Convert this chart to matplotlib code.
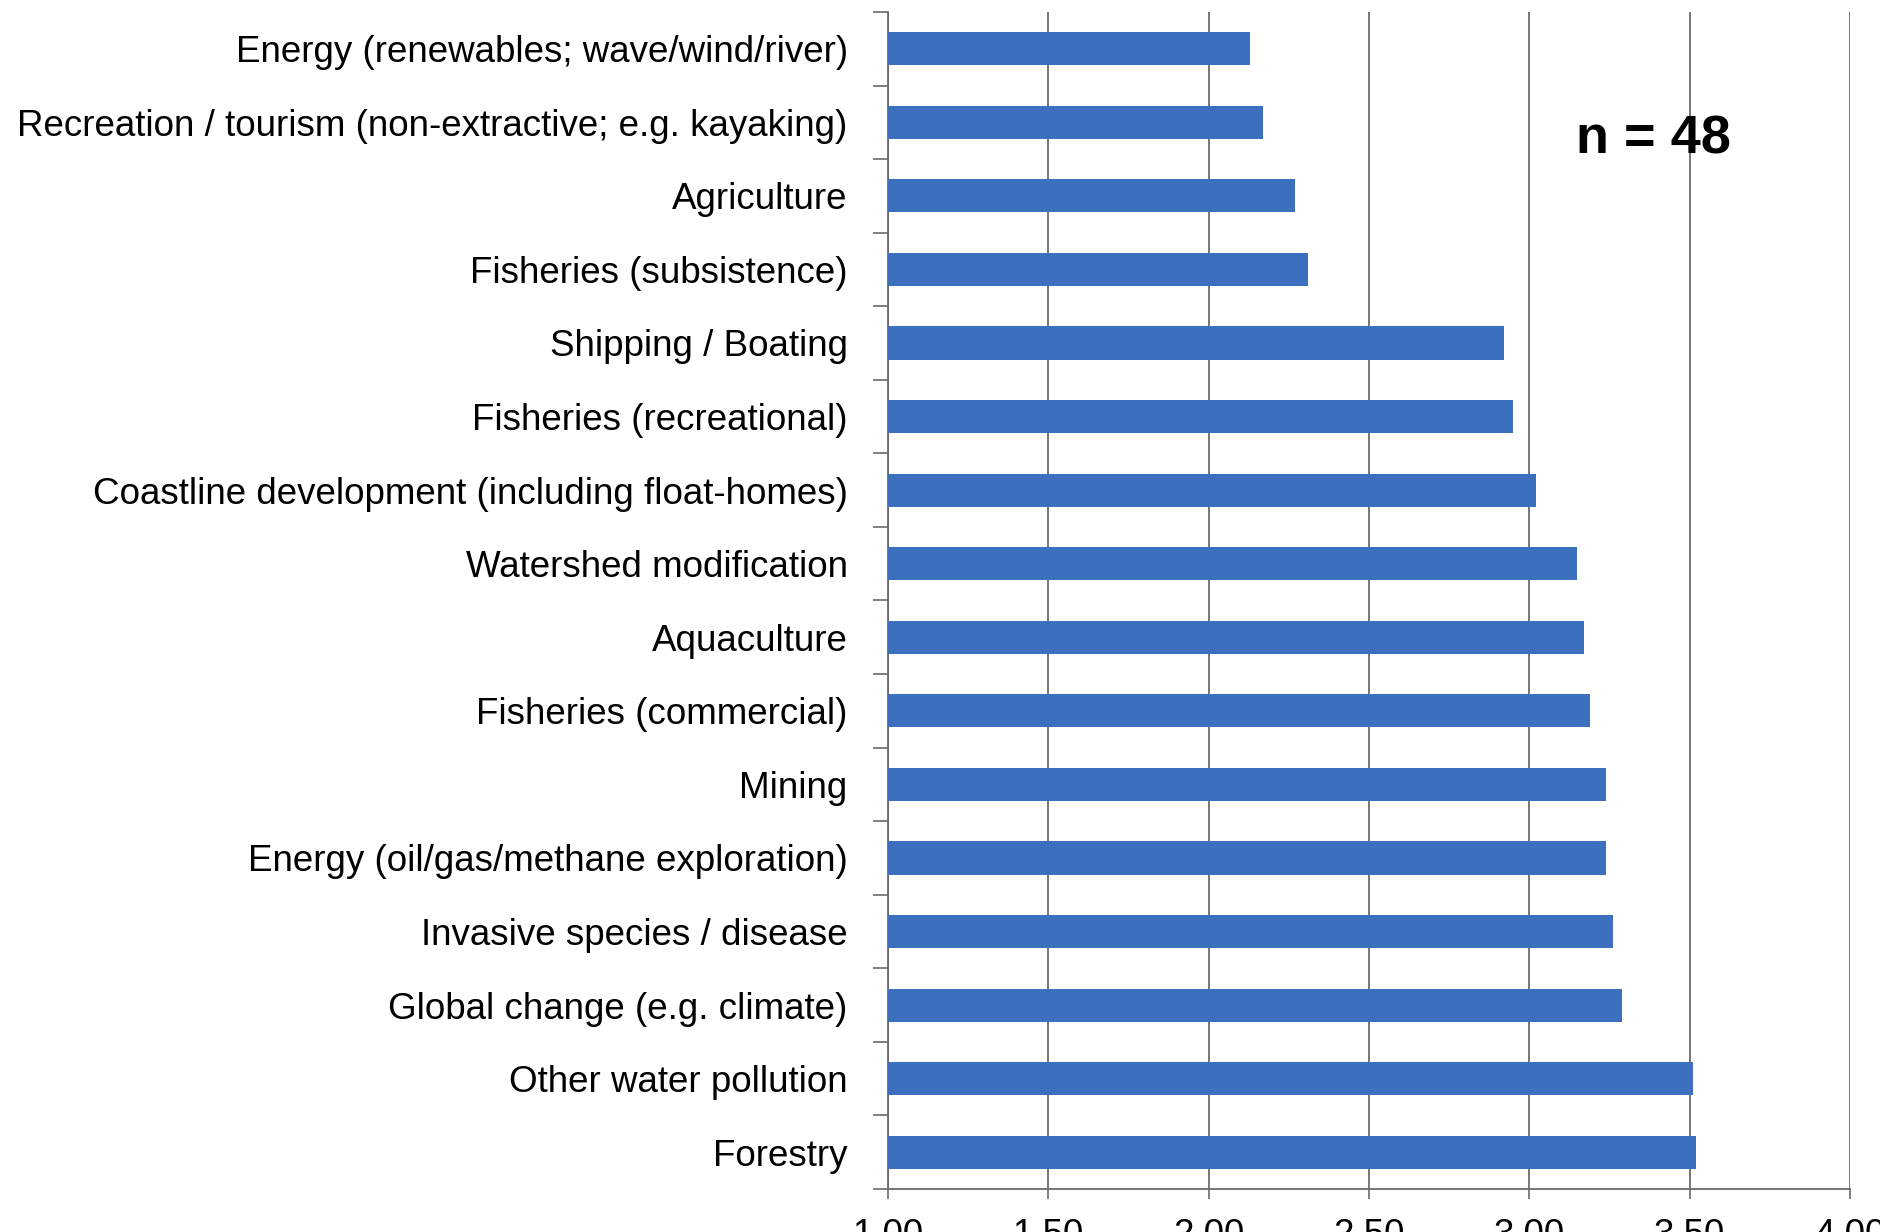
import matplotlib
matplotlib.use("Agg")
import matplotlib.pyplot as plt
import numpy as np
from matplotlib.ticker import FixedLocator, NullFormatter

# pressures listed bottom-to-top, the way the bars are stacked
pressures = [
    "Forestry",
    "Other water pollution",
    "Global change (e.g. climate)",
    "Invasive species / disease",
    "Energy (oil/gas/methane exploration)",
    "Mining",
    "Fisheries (commercial)",
    "Aquaculture",
    "Watershed modification",
    "Coastline development (including float-homes)",
    "Fisheries (recreational)",
    "Shipping / Boating",
    "Fisheries (subsistence)",
    "Agriculture",
    "Recreation / tourism (non-extractive; e.g. kayaking)",
    "Energy (renewables; wave/wind/river)",
]
mean_scores = [3.52, 3.51, 3.29, 3.26, 3.24, 3.24, 3.19, 3.17, 3.15,
               3.02, 2.95, 2.92, 2.31, 2.27, 2.17, 2.13]
x_ticks = [1.0, 1.5, 2.0, 2.5, 3.0, 3.5, 4.0]
n_resp = 48

font = ["Liberation Sans", "DejaVu Sans"]

fig = plt.figure(figsize=(18.81, 12.32), dpi=100)
ax = fig.add_axes([0.4721, 0.0349, 0.9835 - 0.4721, 0.9903 - 0.0349])

y = np.arange(len(pressures))
base = x_ticks[0]
ax.barh(y, np.array(mean_scores) - base, left=base, height=0.45,
        color="#3D6FBF", zorder=3)

ax.set_xlim(x_ticks[0], x_ticks[-1])
ax.set_ylim(-0.5, len(pressures) - 0.5)

ax.set_xticks(x_ticks)
ax.set_xticklabels(["%.2f" % v for v in x_ticks], family=font, fontsize=26.5)
ax.xaxis.grid(True, color="#6b6b6b", linewidth=1.3, zorder=0)
ax.tick_params(axis="x", direction="out", length=7, width=1.2,
               color="#6b6b6b", pad=14)

# category ticks sit between the bars
ax.set_yticks(y)
ax.set_yticklabels(pressures, family=font, fontsize=26.5)
ax.yaxis.set_minor_locator(FixedLocator(np.arange(-0.5, len(pressures), 1.0)))
ax.yaxis.set_minor_formatter(NullFormatter())
ax.tick_params(axis="y", which="major", length=0, pad=29)
ax.tick_params(axis="y", which="minor", direction="out", length=11,
               width=1.2, color="#6b6b6b")

for side in ["top", "right"]:
    ax.spines[side].set_visible(False)
for side in ["left", "bottom"]:
    ax.spines[side].set_color("#6b6b6b")
    ax.spines[side].set_linewidth(1.3)

ax.text(3.386, 13.77, "n = %d" % n_resp, family=font, fontsize=39,
        fontweight="bold", ha="center", va="center", zorder=4)

fig.savefig("out.png", dpi=100)
